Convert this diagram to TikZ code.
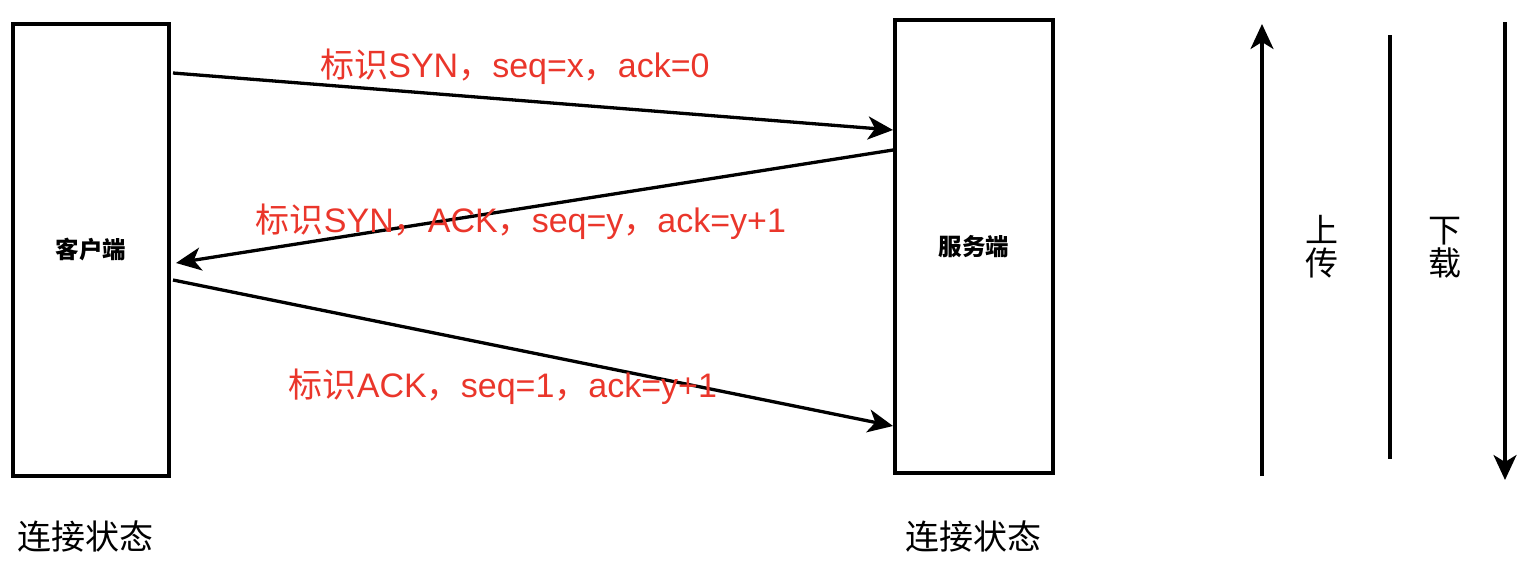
\documentclass[tikz,border=0pt]{standalone}
\usepackage{fontspec}
\setmainfont{Liberation Sans}
\newfontfamily\cjk{Noto Sans CJK SC}
\usetikzlibrary{arrows.meta}
\definecolor{lblred}{RGB}{234,54,43}
\begin{document}
\begin{tikzpicture}[x=1pt,y=1pt,
  box/.style={draw, line width=4pt, inner sep=0pt, font=\cjk\bfseries\fontsize{23.5}{27}\selectfont},
  conn/.style={line width=3.3pt, -{Stealth[length=25pt,width=23pt,inset=7pt]}},
  vline/.style={line width=3.3pt},
  lbl/.style={text=lblred, inner sep=0pt, font=\fontsize{34}{40}\selectfont},
  captext/.style={inner sep=0pt, font=\cjk\fontsize{34}{40}\selectfont},
  vtext/.style={inner sep=0pt, align=center, font=\cjk\fontsize{33}{33}\selectfont}]
\useasboundingbox (0,0) rectangle (1534,-560);
\node[box, minimum width=156pt, minimum height=452pt] (client) at (91,-250) {客户端};
\node[box, minimum width=158pt, minimum height=453pt] (server) at (974,-246.5) {服务端};
\draw[conn] ([xshift=2pt,yshift=177pt]client.east) -- ([yshift=116.5pt]server.west);
\draw[conn] ([yshift=96.5pt]server.west) -- ([xshift=5pt,yshift=-13pt]client.east);
\draw[conn] ([xshift=2pt,yshift=-30pt]client.east) -- ([yshift=-179.5pt]server.west);
\node[lbl] (l1) at (515,-67) {{\cjk 标识}SYN{\cjk ，}seq=x{\cjk ，}ack=0};
\node[lbl] (l2) at (521,-222) {{\cjk 标识}SYN{\cjk ，}ACK{\cjk ，}seq=y{\cjk ，}ack=y+1};
\node[lbl] (l3) at (503,-387) {{\cjk 标识}ACK{\cjk ，}seq=1{\cjk ，}ack=y+1};
\node[captext] (c1) at (85,-537) {连接状态};
\node[captext] (c2) at (973,-537) {连接状态};
\coordinate (u1) at (1262,-476);
\coordinate (u2) at (1262,-24);
\coordinate (m1) at (1390,-35);
\coordinate (m2) at (1390,-459);
\coordinate (d1) at (1505,-22);
\coordinate (d2) at (1505,-480);
\draw[conn] (u1) -- (u2);
\draw[vline] (m1) -- (m2);
\draw[conn] (d1) -- (d2);
\node[vtext] (up) at (1322,-247) {上\\传};
\node[vtext] (down) at (1445,-248) {下\\载};
\end{tikzpicture}
\end{document}
